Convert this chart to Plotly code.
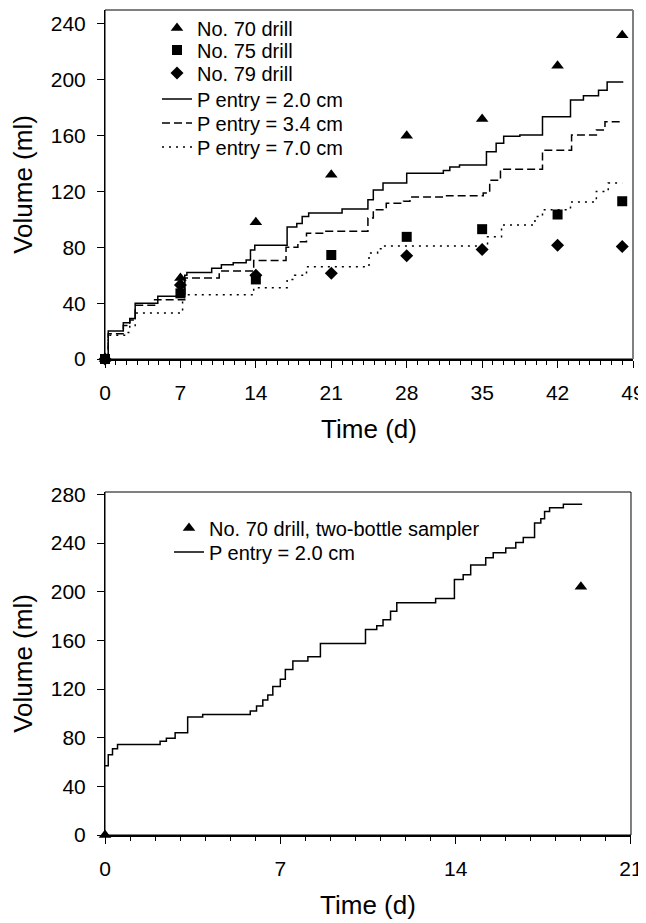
import plotly.graph_objects as go

# ---------------- data: top panel ----------------
drill_days = [0, 7, 14, 21, 28, 35, 42, 48]
drill70 = [0, 58, 98, 132, 160, 172, 210, 232]
drill75 = [0, 47, 57, 74.5, 87.5, 93, 103.5, 113]
drill79 = [0, 53, 60, 61.5, 74, 78.5, 81.5, 80.5]

p20_days = [0, 0.3, 1.7, 2.3, 2.8, 4.9, 7.4, 7.6, 9.9, 10.8, 11.9, 13.1, 13.5, 13.9,
            16.9, 17.8, 18.3, 18.9, 22.0, 24.4, 24.9, 25.8, 28.0, 31.4, 32.0, 32.9,
            35.4, 36.3, 37.0, 38.5, 40.6, 43.2, 44.4, 45.8, 46.6, 48.1]
p20_vol = [0, 20, 26, 29, 40, 45, 60, 62, 65, 67.5, 69, 71, 78, 81.5,
           94.5, 97, 102, 104.5, 107.5, 114, 121, 126, 133, 135, 137.5, 139,
           148.5, 154.5, 159.5, 160.5, 173.5, 185.5, 188.5, 192.5, 198.5, 198.5]

p34_days = [0, 0.3, 1.7, 2.3, 2.8, 4.6, 7.4, 10.6, 13.8, 16.8, 17.9, 18.7, 20.5,
            24.4, 24.9, 26.1, 27.7, 28.3, 31.7, 35.1, 35.7, 36.7, 40.6, 43.3,
            45.6, 46.4, 48.1]
p34_vol = [0, 18, 24, 28, 38.5, 42.5, 58, 63, 70.5, 80, 84, 90, 91.5,
           101, 107, 111.5, 113, 116, 117, 119, 128, 136, 149.5, 160.5,
           164, 170, 170]

p70_days = [0, 0.3, 1.9, 2.3, 2.8, 7.2, 13.8, 16.9, 17.6, 18.7, 24.5, 25.3, 25.8,
            35.5, 36.8, 39.9, 40.6, 43.2, 45.6, 46.7, 48.0]
p70_vol = [0, 17, 19, 24, 33, 46, 51, 57, 60, 66, 76, 79, 81,
           87.5, 96, 102, 107, 112.5, 120, 126, 126]

top_xticks = [0, 7, 14, 21, 28, 35, 42, 49]
top_yticks = [0, 40, 80, 120, 160, 200, 240]

# ---------------- data: bottom panel ----------------
sampler_days = [0, 19]
sampler_vol = [0, 204]

b20_days = [0, 0.13, 0.3, 0.5, 2.2, 2.45, 2.8, 3.3, 3.9, 5.8, 6.05, 6.3, 6.5, 6.7,
            7.0, 7.2, 7.5, 8.1, 8.6, 10.4, 10.85, 11.1, 11.4, 11.65, 13.2, 13.95,
            14.3, 14.6, 15.2, 15.5, 16.0, 16.4, 16.7, 17.15, 17.4, 17.55, 17.75,
            18.3, 19.05]
b20_vol = [57, 66, 71, 74.5, 77, 79.5, 84, 97, 99, 102, 106, 111, 115, 122,
           128, 136, 143, 146.5, 157.5, 169, 172, 177, 184, 191, 194.5, 210,
           214, 222, 228, 232, 236, 240.5, 244.5, 256.5, 260, 266, 269,
           272, 272]

bot_xticks = [0, 7, 14, 21]
bot_yticks = [0, 40, 80, 120, 160, 200, 240, 280]

FONT = "Liberation Sans, Arial, sans-serif"
BLACK = "black"

# legend rows (page pixel rows of each entry) -> converted to paper coords below
PLOT_TOP_PX, PLOT_BOT_PX, PLOT_LEFT_PX, PLOT_W_PX = 10, 835, 105, 528


def paper_y(px):
    return (PLOT_BOT_PX - px) / (PLOT_BOT_PX - PLOT_TOP_PX)


def paper_x(px):
    return (px - PLOT_LEFT_PX) / PLOT_W_PX


top_rows = [28, 50, 73, 99, 123, 147]
bot_rows = [528, 552]

fig = go.Figure()

# top panel traces
fig.add_trace(go.Scatter(x=drill_days, y=drill70, mode="markers", name="No. 70 drill",
                         marker=dict(symbol="triangle-up", size=11, color=BLACK),
                         cliponaxis=False, xaxis="x", yaxis="y", legend="legend"))
fig.add_trace(go.Scatter(x=drill_days, y=drill75, mode="markers", name="No. 75 drill",
                         marker=dict(symbol="square", size=10, color=BLACK),
                         cliponaxis=False, xaxis="x", yaxis="y", legend="legend2"))
fig.add_trace(go.Scatter(x=drill_days, y=drill79, mode="markers", name="No. 79 drill",
                         marker=dict(symbol="diamond", size=10, color=BLACK),
                         cliponaxis=False, xaxis="x", yaxis="y", legend="legend3"))
fig.add_trace(go.Scatter(x=p20_days, y=p20_vol, mode="lines", name="P entry = 2.0 cm",
                         line=dict(color=BLACK, width=1.5, shape="hv"),
                         xaxis="x", yaxis="y", legend="legend4"))
fig.add_trace(go.Scatter(x=p34_days, y=p34_vol, mode="lines", name="P entry = 3.4 cm",
                         line=dict(color=BLACK, width=1.5, shape="hv", dash="8px,4px"),
                         xaxis="x", yaxis="y", legend="legend5"))
fig.add_trace(go.Scatter(x=p70_days, y=p70_vol, mode="lines", name="P entry = 7.0 cm",
                         line=dict(color=BLACK, width=1.5, shape="hv", dash="2px,5px"),
                         xaxis="x", yaxis="y", legend="legend6"))

# bottom panel traces
fig.add_trace(go.Scatter(x=sampler_days, y=sampler_vol, mode="markers",
                         name="No. 70 drill, two-bottle sampler",
                         marker=dict(symbol="triangle-up", size=11, color=BLACK),
                         cliponaxis=False, xaxis="x2", yaxis="y2", legend="legend7"))
fig.add_trace(go.Scatter(x=b20_days, y=b20_vol, mode="lines", name="P entry = 2.0 cm",
                         line=dict(color=BLACK, width=1.5, shape="hv"),
                         xaxis="x2", yaxis="y2", legend="legend8"))

tickfont = dict(family=FONT, size=21, color=BLACK)
titlefont = dict(family=FONT, size=26, color=BLACK)


def xaxis_cfg(rng, ticks, domain, anchor):
    return dict(range=rng, tickvals=ticks, domain=domain, anchor=anchor,
                automargin=False,
                showline=True, linecolor=BLACK, linewidth=2, mirror=False,
                ticks="outside", ticklen=7, tickwidth=1, tickcolor=BLACK,
                minor=dict(dtick=1, ticks="outside", ticklen=4, tickwidth=1, tickcolor=BLACK),
                showgrid=False, zeroline=False, tickfont=tickfont,
                ticklabelstandoff=7,
                title=dict(text="Time (d)", font=titlefont, standoff=17))


def yaxis_cfg(rng, ticks, domain, anchor):
    return dict(range=rng, tickvals=ticks, domain=domain, anchor=anchor,
                automargin=False,
                showline=True, linecolor=BLACK, linewidth=1, mirror=False,
                ticks="outside", ticklen=7, tickwidth=1, tickcolor=BLACK,
                showgrid=False, zeroline=False, tickfont=tickfont,
                ticklabelstandoff=7,
                title=dict(text="Volume (ml)", font=titlefont, standoff=18))


legend_font = dict(family=FONT, size=20, color=BLACK)


def legend_cfg(text_left_px, row_px):
    return dict(x=paper_x(text_left_px - 40), y=paper_y(row_px),
                xref="paper", yref="paper", xanchor="left", yanchor="middle",
                font=legend_font, bgcolor="rgba(0,0,0,0)", borderwidth=0)


legends = {}
for i, row in enumerate(top_rows):
    key = "legend" if i == 0 else "legend%d" % (i + 1)
    legends[key] = legend_cfg(197, row)
for j, row in enumerate(bot_rows):
    legends["legend%d" % (len(top_rows) + j + 1)] = legend_cfg(209, row)

# the page body has an 8px default margin: shift the figure content up/left by 8px
fig.update_layout(
    template="none",
    width=646, height=923,
    paper_bgcolor="white", plot_bgcolor="white",
    margin=dict(l=97, r=21, t=2, b=96, autoexpand=False),
    font=dict(family=FONT, color=BLACK),
    xaxis=xaxis_cfg([0, 49], top_xticks, [0, 1], "y"),
    yaxis=yaxis_cfg([0, 250], top_yticks, [paper_y(359), 1], "x"),
    xaxis2=xaxis_cfg([0, 21], bot_xticks, [0, 0.9962], "y2"),
    yaxis2=yaxis_cfg([0, 282], bot_yticks, [0, paper_y(492)], "x2"),
    showlegend=True,
    shapes=[
        dict(type="rect", xref="x domain", yref="y domain", x0=0, x1=1, y0=0, y1=1,
             line=dict(color=BLACK, width=1), layer="below"),
        dict(type="line", xref="x domain", yref="y domain", x0=1, x1=1, y0=0, y1=1,
             line=dict(color="#808080", width=2), layer="below"),
        dict(type="rect", xref="x2 domain", yref="y2 domain", x0=0, x1=1, y0=0, y1=1,
             line=dict(color=BLACK, width=1), layer="below"),
    ],
    **legends,
)

fig.write_html("out.html")
